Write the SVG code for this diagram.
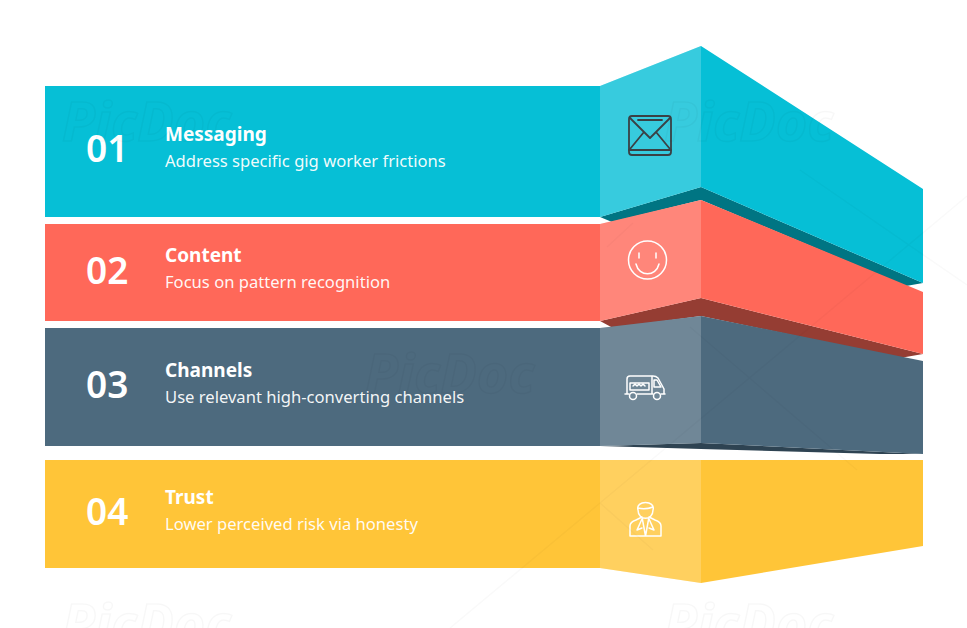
<svg xmlns="http://www.w3.org/2000/svg" width="967" height="628" viewBox="0 0 967 628">
<style>
.num{font:600 37px "Noto Sans",sans-serif;fill:#fff}
.ttl{font:700 19px "Noto Sans",sans-serif;fill:#fff}
.sub{font:400 16.6px "Noto Sans",sans-serif;fill:#fff;fill-opacity:.95}
.pane{fill:#fff;fill-opacity:.2}
.ic{fill:none;stroke:#fff;stroke-width:1.5;stroke-linecap:round;stroke-linejoin:round}
.wm{font:italic 700 54px "Noto Sans",sans-serif;fill:none;stroke:#000;stroke-opacity:.03;stroke-width:1.5}
.lat{fill:none;stroke:#000;stroke-opacity:.025;stroke-width:1.5}
</style>
<rect width="967" height="628" fill="#fff"/>
<g id="shadows">
<polygon points="600,217 701,187 923,283 906,286 701,200 612,222" fill="#007583"/>
<polygon points="600,321 701,298 923,354 900,358 701,316 613,328" fill="#953d33"/>
<polygon points="600,446 701,443 923,454 880,454 701,449" fill="#2e4352"/>
</g>
<g id="node-01">
<path d="M45 86H600L701 46 923 189V283L701 187 600 217H45Z" fill="#06bfd6"/>
<polygon class="pane" points="600,86 701,46 701,187 600,217"/>
<text class="num" x="86" y="162">01</text>
<text class="ttl" x="165" y="141">Messaging</text>
<text class="sub" x="165" y="167">Address specific gig worker frictions</text>
<g fill="none" stroke="#3a4145" stroke-width="1.8" stroke-linecap="round" stroke-linejoin="round">
<rect x="629" y="116" width="42" height="39" rx="3"/>
<path d="M638 120H662M630 118 650 138 670 118M644 132 630 149M656 132 670 149M629 150H671"/>
</g>
</g>
<g id="node-02">
<path d="M45 224H600L701 200 923 292V354L701 298 600 321H45Z" fill="#ff6859"/>
<polygon class="pane" points="600,224 701,200 701,298 600,321"/>
<text class="num" x="86" y="284">02</text>
<text class="ttl" x="165" y="262">Content</text>
<text class="sub" x="165" y="288">Focus on pattern recognition</text>
<g class="ic"><circle cx="647.500" cy="260" r="19"/><path d="M639 253V258M656 253V258M636 264C639 277 656 277 659 264"/></g>
</g>
<g id="node-03">
<path d="M45 328H600L701 316 923 361V454L701 443 600 446H45Z" fill="#4d6a7e"/>
<polygon class="pane" points="600,328 701,316 701,443 600,446"/>
<text class="num" x="86" y="398">03</text>
<text class="ttl" x="165" y="377">Channels</text>
<text class="sub" x="165" y="403">Use relevant high-converting channels</text>
<g class="ic" stroke-width="1.2"><path d="M627 393V379Q627 376 630 376H653Q656 376 658 378L664 389V394M652 376V394M625 394H629M637 394H653M661 394H665"/><circle cx="633" cy="396" r="3.500"/><circle cx="657" cy="396" r="3.500"/><rect x="630" y="383" width="19" height="7"/><path d="M633 386 635 384 637 386 639 384 641 386 643 384 645 386M654 380V387H661L657 380Z"/></g>
</g>
<g id="node-04">
<path d="M45 460H923V546L701 583 600 568H45Z" fill="#ffc538"/>
<polygon class="pane" points="600,460 701,460 701,583 600,568"/>
<text class="num" x="86" y="525">04</text>
<text class="ttl" x="165" y="504">Trust</text>
<text class="sub" x="165" y="530">Lower perceived risk via honesty</text>
<g class="ic" stroke-width="1.2"><path d="M630 536V526Q630 522 636 520L642 517M661 536V526Q661 522 655 520L649 517M630 536H661M638 510C638 521 653 521 653 510M638 510C635 500 656 500 653 510M638 508Q645 510 653 507M642 517 645.500 536 649 517M642 519 637 530 642 528M649 519 654 530 649 528"/></g>
</g>
<g id="watermarks">
<path class="lat" d="M967 196 600 503 450 628M800 170 967 285M690 327 857 470M600 503 653 550M607 247 633 223"/>
<text class="wm" x="62" y="141">PicDoc</text>
<text class="wm" x="664" y="141">PicDoc</text>
<text class="wm" x="365" y="393">PicDoc</text>
<text class="wm" x="62" y="643">PicDoc</text>
<text class="wm" x="664" y="643">PicDoc</text>
</g>
</svg>
